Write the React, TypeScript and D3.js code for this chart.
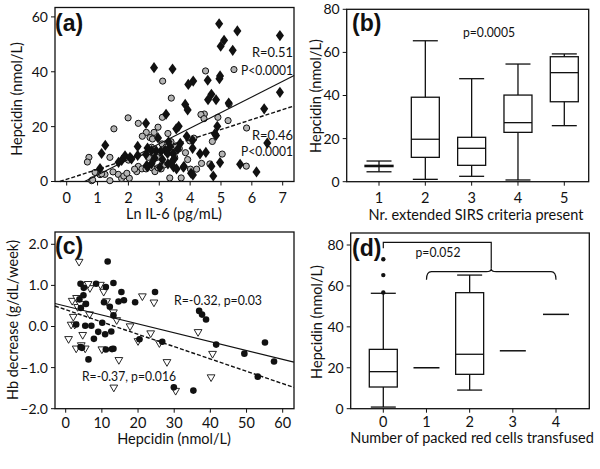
import React from 'react';
import * as d3 from 'd3';

// ---------- Panel (a) data ----------
const aDiamonds: [number, number][] = [
  [4.94,57.5],[5.53,54.9],[6.91,53.2],[5.10,51.5],[4.99,49.3],[5.38,47.8],[2.83,41.5],[3.43,41.0],
  [4.97,38.5],[4.95,37.5],[4.10,36.6],[3.94,35.4],[4.57,36.9],[4.69,31.8],[4.58,29.8],[4.84,29.8],
  [5.25,28.6],[6.91,32.5],[6.40,26.5],[3.84,28.1],[3.92,26.1],[3.22,24.5],[3.63,20.1],[3.55,19.2],
  [4.88,20.1],[4.84,16.8],[3.89,16.5],[4.08,15.0],[2.96,15.9],[2.57,21.2],[1.25,13.2],[1.13,10.2],
  [2.30,12.8],[2.62,12.2],[2.57,9.9],[1.89,9.4],[1.78,7.7],[2.05,8.8],[1.08,4.7],[2.90,11.2],
  [3.19,11.4],[3.27,10.2],[3.35,12.7],[3.45,10.2],[3.49,8.3],[3.68,13.9],[4.08,12.1],[4.51,10.6],
  [3.28,6.4],[3.46,5.3],[3.80,5.5],[4.03,3.0],[4.09,2.4],[4.69,5.6],[4.75,2.0],[4.97,6.9],
  [5.62,6.3],[6.15,3.5],[6.50,14.0],[2.62,5.4],[2.75,6.5],[2.30,9.5],[3.05,11.0],[3.60,11.8],
  [2.10,8.2],[3.30,14.5],[2.85,8.5],[3.10,8.0],[3.40,7.0],[1.68,7.0],[2.75,11.3],[3.02,5.2],
  [3.56,4.6],[3.78,5.2],[4.80,17.4],[4.32,10.1],[2.59,5.8]
];
const aCircles: [number, number][] = [
  [5.42,40.8],[4.50,40.3],[3.11,36.6],[3.39,30.4],[4.46,24.6],[4.35,24.4],[4.45,22.9],[5.26,28.2],
  [5.23,22.2],[4.90,23.4],[5.83,19.5],[1.99,23.2],[2.32,21.2],[1.53,19.2],[3.10,23.4],[2.96,19.8],
  [2.83,17.9],[2.58,17.9],[2.70,16.0],[2.78,15.5],[3.28,17.5],[5.04,10.0],[4.72,14.6],[3.99,14.8],
  [4.12,15.8],[0.72,8.8],[0.67,7.1],[0.92,3.3],[0.81,0.3],[1.40,8.8],[1.24,2.6],[1.40,0.3],
  [1.08,2.5],[1.67,2.6],[1.78,1.1],[1.85,2.0],[2.00,7.8],[2.03,1.2],[2.27,3.6],[2.32,5.5],
  [2.44,4.6],[2.57,4.6],[2.65,5.5],[2.76,5.0],[2.86,3.6],[2.96,5.0],[3.06,4.6],[2.65,8.8],
  [2.80,10.5],[2.93,8.8],[3.09,13.7],[3.22,12.5],[3.34,1.3],[3.42,10.5],[3.50,8.8],[3.71,1.3],
  [3.85,10.5],[3.92,8.0],[4.01,4.5],[4.21,4.5],[4.37,6.6],[4.64,6.4],[5.82,5.6],[1.50,3.5],
  [3.55,13.0],[3.65,12.0],[2.20,4.5],[3.15,6.0],[3.38,14.5],[2.45,16.5],[1.95,3.0],[2.75,12.5],
  [2.84,11.5],[0.84,0.6],[1.13,2.8]
];
const aTicksX = [0, 1, 2, 3, 4, 5, 6, 7];
const aTicksY = [0, 20, 40, 60];
const aFitSolid = [5.69, -3.3, 0.58, 7.37]; // slope, intercept, xStart, xEnd
const aFitDashed = [3.63, 0.8, -0.22, 7.37];

// ---------- Panel (b) data ----------
const bCategories = [1, 2, 3, 4, 5];
const bMin = [4.6, 1.1, 2.5, 0.8, 26.0];
const bQ1 = [7.0, 11.3, 7.6, 22.9, 37.1];
const bMedian = [7.3, 19.7, 15.5, 27.4, 50.6];
const bQ3 = [7.6, 39.2, 20.6, 40.2, 58.0];
const bMax = [9.6, 65.4, 47.8, 54.6, 59.3];
const bTicksY = [0, 20, 40, 60, 80];

// ---------- Panel (c) data ----------
const cCircles: [number, number][] = [
  [11.6,1.58],[4.1,1.04],[8.4,1.04],[13.2,1.06],[5.0,0.94],[11.1,0.96],[15.4,0.84],[24.7,0.84],
  [3.8,0.66],[4.9,0.76],[5.6,0.55],[16.1,0.64],[14.6,0.61],[19.2,0.59],[10.6,0.59],[12.2,0.48],
  [13.2,0.27],[4.2,0.45],[2.9,0.05],[5.4,0.02],[7.1,0.02],[10.1,0.09],[9.0,-0.13],[10.9,-0.19],
  [12.6,-0.12],[7.8,-0.30],[11.1,-0.56],[13.2,-0.54],[4.1,-0.50],[6.3,-0.80],[20.4,-0.31],[26.7,-0.37],
  [36.9,0.38],[37.7,0.29],[38.8,0.17],[41.6,-0.44],[55.1,-0.39],[49.4,-0.66],[57.6,-0.85],[53.1,-1.22],
  [29.9,-1.48],[35.3,-1.56],[12.8,-0.55],[4.5,-0.52]
];
const cTriangles: [number, number][] = [
  [3.7,1.58],[5.3,1.02],[6.7,0.94],[10.5,0.85],[1.8,0.63],[11.3,0.62],[21.2,0.74],[24.4,0.59],
  [3.3,0.48],[6.6,0.30],[2.1,0.24],[13.2,0.35],[14.1,0.16],[1.5,0.05],[17.8,0.01],[4.7,-0.20],
  [0.8,-0.30],[20.0,-0.35],[23.5,-0.16],[25.9,-0.40],[2.9,-0.53],[5.4,-0.53],[10.0,-0.55],[14.7,-0.81],
  [28.0,-0.86],[36.6,-0.13],[40.6,-0.66],[40.2,-1.23],[13.3,-1.48],[30.4,-1.56],[3.0,0.70],[6.2,1.04],
  [4.3,-0.45],[4.0,0.55],[9.6,1.02],[2.5,0.05]
];
const cTicksX = [0, 10, 20, 30, 40, 50, 60];
const cTicksY = [-2, -1, 0, 1, 2];
const cFitSolid = [-0.0216, 0.496, -2.96, 63.1];
const cFitDashed = [-0.030, 0.41, -2.96, 63.1];

// ---------- Panel (d) data ----------
const dCategories = [0, 1, 2, 3, 4];
const dCounts = [30, 1, 5, 1, 1];
const dMin = [0.8, 20.0, 9.1, 28.3, 46.1];
const dQ1 = [10.6, 20.0, 16.8, 28.3, 46.1];
const dMedian = [18.1, 20.0, 26.6, 28.3, 46.1];
const dQ3 = [29.0, 20.0, 56.7, 28.3, 46.1];
const dMax = [56.4, 20.0, 65.3, 28.3, 46.1];
const dOutliers: [number, number][] = [[0, 73.0], [0, 65.3], [0, 56.8]];
const dTicksY = [0, 20, 40, 60, 80];

const FONT = "Lato, 'Open Sans', sans-serif";
const INK = '#111';
const TITLE = 14.5;

type Frame = { left: number; right: number; top: number; bottom: number };

function T({ x, y, text, size = 14, anchor = 'start', len, rotate }:
  { x: number; y: number; text: string; size?: number; anchor?: string; len?: number; rotate?: boolean }) {
  return (
    <text x={x} y={y} dy="0.35em" textAnchor={anchor} fontSize={size} fontFamily={FONT} fill={INK}
      textLength={len} lengthAdjust={len ? 'spacingAndGlyphs' : undefined}
      transform={rotate ? `rotate(-90 ${x} ${y})` : undefined}>{text}</text>
  );
}

function Box({ f }: { f: Frame }) {
  return (
    <rect x={f.left} y={f.top} width={f.right - f.left} height={f.bottom - f.top}
      fill="none" stroke={INK} strokeWidth={1.3} />
  );
}

function YAxis({ f, y, ticks, fmt }: { f: Frame; y: d3.ScaleLinear<number, number>; ticks: number[]; fmt: (v: number) => string }) {
  return (
    <g>
      {ticks.map((t) => (
        <g key={t}>
          <line x1={f.left - 4} x2={f.left} y1={y(t)} y2={y(t)} stroke={INK} strokeWidth={1} />
          <T x={f.left - 7} y={y(t)} text={fmt(t)} anchor="end" size={14} />
        </g>
      ))}
    </g>
  );
}

function XAxis({ f, x, ticks, fmt, labelY }: { f: Frame; x: d3.ScaleLinear<number, number>; ticks: number[]; fmt: (v: number) => string; labelY: number }) {
  return (
    <g>
      {ticks.map((t) => (
        <g key={t}>
          <line x1={x(t)} x2={x(t)} y1={f.bottom} y2={f.bottom + 4} stroke={INK} strokeWidth={1} />
          <T x={x(t)} y={labelY} text={fmt(t)} anchor="middle" size={14.5} />
        </g>
      ))}
    </g>
  );
}

function PanelLabel({ x, y, text }: { x: number; y: number; text: string }) {
  return (
    <text x={x} y={y} fontSize={23} fontWeight="bold" fontFamily="'Liberation Sans', Arial, sans-serif" fill={INK}>{text}</text>
  );
}

function fitLine(x: d3.ScaleLinear<number, number>, y: d3.ScaleLinear<number, number>, fit: number[]) {
  const [m, b, x0, x1] = fit;
  const pts: [number, number][] = [[x0, m * x0 + b], [x1, m * x1 + b]];
  return d3.line<[number, number]>().x((d) => x(d[0])).y((d) => y(d[1]))(pts) || '';
}

function PanelA() {
  const f: Frame = { left: 55, right: 294, top: 7.5, bottom: 181.5 };
  const x = d3.scaleLinear().domain([0, 7]).range([66.7, 282.7]);
  const y = d3.scaleLinear().domain([0, 60]).range([181.5, 16.9]);
  const diamond = d3.symbol().type(d3.symbolDiamond).size(36)();
  return (
    <g>
      <Box f={f} />
      <g>
        {aCircles.map((d, i) => (
          <circle key={'c' + i} cx={x(d[0])} cy={y(d[1])} r={3.1} fill="#b4b4b4" stroke={INK} strokeWidth={1} />
        ))}
        {aDiamonds.map((d, i) => (
          <path key={'d' + i} d={diamond || ''} transform={`translate(${x(d[0])},${y(d[1])}) scale(1.25,1)`} fill={INK} />
        ))}
      </g>
      <path d={fitLine(x, y, aFitSolid)} stroke={INK} strokeWidth={1.1} fill="none" />
      <path d={fitLine(x, y, aFitDashed)} stroke={INK} strokeWidth={1.4} strokeDasharray="4,2" fill="none" />
      <YAxis f={f} y={y} ticks={aTicksY} fmt={(v) => String(v)} />
      <XAxis f={f} x={x} ticks={aTicksX} fmt={(v) => String(v)} labelY={198} />
      <T x={293} y={52} text="R=0.51" anchor="end" len={41} />
      <T x={293} y={70} text="P<0.0001" anchor="end" len={52} />
      <T x={293} y={135} text="R=0.46" anchor="end" len={41} />
      <T x={293} y={151} text="P<0.0001" anchor="end" len={52} />
      <T x={17} y={99} text="Hepcidin (nmol/L)" anchor="middle" size={TITLE} rotate />
      <T x={174} y={214} text="Ln IL-6 (pg/mL)" anchor="middle" size={TITLE} />
      <PanelLabel x={55} y={31} text="(a)" />
    </g>
  );
}

function PanelB() {
  const f: Frame = { left: 346.7, right: 588.7, top: 9.3, bottom: 181.7 };
  const x = d3.scaleLinear().domain([1, 5]).range([379, 564.3]);
  const y = d3.scaleLinear().domain([0, 80]).range([181.7, 9.3]);
  const bw = 28, cw = 25;
  return (
    <g>
      <Box f={f} />
      {bCategories.map((c, i) => {
        const cx = x(c);
        return (
          <g key={c} stroke={INK} strokeWidth={1.3} fill="none">
            <line x1={cx} x2={cx} y1={y(bMax[i])} y2={y(bQ3[i])} />
            <line x1={cx} x2={cx} y1={y(bQ1[i])} y2={y(bMin[i])} />
            <line x1={cx - cw / 2} x2={cx + cw / 2} y1={y(bMax[i])} y2={y(bMax[i])} />
            <line x1={cx - cw / 2} x2={cx + cw / 2} y1={y(bMin[i])} y2={y(bMin[i])} />
            <rect x={cx - bw / 2} y={y(bQ3[i])} width={bw} height={Math.max(0.5, y(bQ1[i]) - y(bQ3[i]))} />
            <line x1={cx - bw / 2} x2={cx + bw / 2} y1={y(bMedian[i])} y2={y(bMedian[i])} />
          </g>
        );
      })}
      <YAxis f={f} y={y} ticks={bTicksY} fmt={(v) => String(v)} />
      <XAxis f={f} x={x} ticks={bCategories} fmt={(v) => String(v)} labelY={198} />
      <T x={489} y={32} text="p=0.0005" anchor="middle" size={14} len={52} />
      <T x={316} y={96} text="Hepcidin (nmol/L)" anchor="middle" size={TITLE} rotate />
      <T x={476} y={215} text="Nr. extended SIRS criteria present" anchor="middle" size={TITLE} />
      <PanelLabel x={352} y={31} text="(b)" />
    </g>
  );
}

function PanelC() {
  const f: Frame = { left: 55, right: 294, top: 232, bottom: 408.7 };
  const x = d3.scaleLinear().domain([0, 60]).range([65.7, 282.7]);
  const y = d3.scaleLinear().domain([-2, 2]).range([408.7, 244.3]);
  const tri = d3.symbol().type(d3.symbolTriangle).size(26)();
  return (
    <g>
      <Box f={f} />
      {cTriangles.map((d, i) => (
        <path key={'t' + i} d={tri || ''} transform={`translate(${x(d[0])},${y(d[1])}) rotate(180)`} fill="#fff" stroke={INK} strokeWidth={0.9} />
      ))}
      {cCircles.map((d, i) => (
        <circle key={'c' + i} cx={x(d[0])} cy={y(d[1])} r={3.3} fill={INK} />
      ))}
      <path d={fitLine(x, y, cFitSolid)} stroke={INK} strokeWidth={1.1} fill="none" />
      <path d={fitLine(x, y, cFitDashed)} stroke={INK} strokeWidth={1.4} strokeDasharray="4,2" fill="none" />
      <YAxis f={f} y={y} ticks={cTicksY} fmt={d3.format('.1f')} />
      <XAxis f={f} x={x} ticks={cTicksX} fmt={(v) => String(v)} labelY={423} />
      <T x={174} y={300} text="R=-0.32, p=0.03" len={88} />
      <T x={82} y={376} text="R=-0.37, p=0.016" len={94} />
      <T x={13} y={320} text="Hb decrease (g/dL/week)" anchor="middle" size={TITLE} rotate />
      <T x={174} y={439} text="Hepcidin (nmol/L)" anchor="middle" size={TITLE} />
      <PanelLabel x={55} y={254} text="(c)" />
    </g>
  );
}

function PanelD() {
  const f: Frame = { left: 350.7, right: 589.3, top: 233, bottom: 408.7 };
  const x = d3.scaleLinear().domain([0, 4]).range([383.3, 556]);
  const y = d3.scaleLinear().domain([0, 80]).range([408.7, 245]);
  const bw = 28, cw = 25;
  const yb1 = 242.3, yb2 = 271.7;
  return (
    <g>
      <Box f={f} />
      {dCategories.map((c, i) => {
        const cx = x(c);
        if (dCounts[i] < 2) {
          return <line key={c} x1={cx - 13} x2={cx + 13} y1={y(dMedian[i])} y2={y(dMedian[i])} stroke={INK} strokeWidth={1.5} />;
        }
        return (
          <g key={c} stroke={INK} strokeWidth={1.3} fill="none">
            <line x1={cx} x2={cx} y1={y(dMax[i])} y2={y(dQ3[i])} />
            <line x1={cx} x2={cx} y1={y(dQ1[i])} y2={y(dMin[i])} />
            <line x1={cx - cw / 2} x2={cx + cw / 2} y1={y(dMax[i])} y2={y(dMax[i])} />
            <line x1={cx - cw / 2} x2={cx + cw / 2} y1={y(dMin[i])} y2={y(dMin[i])} />
            <rect x={cx - bw / 2} y={y(dQ3[i])} width={bw} height={y(dQ1[i]) - y(dQ3[i])} />
            <line x1={cx - bw / 2} x2={cx + bw / 2} y1={y(dMedian[i])} y2={y(dMedian[i])} />
          </g>
        );
      })}
      {dOutliers.map((d, i) => (
        <circle key={i} cx={x(d[0])} cy={y(d[1])} r={2.2} fill={INK} />
      ))}
      <g stroke={INK} strokeWidth={1.2} fill="none">
        <path d={`M${x(0)},${yb1 + 6} V${yb1} H${x(2.5)} V${yb2 - 3}`} />
        <path d={`M${x(1)},${yb2 + 8} Q${x(1)},${yb2} ${x(1) + 5},${yb2} H${x(2.5) - 5} Q${x(2.5)},${yb2} ${x(2.5)},${yb2 - 3} Q${x(2.5)},${yb2} ${x(2.5) + 5},${yb2} H${x(4) - 5} Q${x(4)},${yb2} ${x(4)},${yb2 + 8}`} />
      </g>
      <T x={438} y={252} text="p=0.052" anchor="middle" size={14} len={45} />
      <YAxis f={f} y={y} ticks={dTicksY} fmt={(v) => String(v)} />
      <XAxis f={f} x={x} ticks={dCategories} fmt={(v) => String(v)} labelY={422} />
      <T x={317} y={322} text="Hepcidin (nmol/L)" anchor="middle" size={TITLE} rotate />
      <T x={472} y={438} text="Number of packed red cells transfused" anchor="middle" size={TITLE} />
      <PanelLabel x={352} y={256} text="(d)" />
    </g>
  );
}

export default function App() {
  return (
    <svg width={600} height={469} viewBox="0 0 600 469"
      style={{ position: 'absolute', left: 0, top: 0, background: '#fff' }}>
      <rect x={0} y={0} width={600} height={469} fill="#fff" />
      <PanelA />
      <PanelB />
      <PanelC />
      <PanelD />
    </svg>
  );
}
